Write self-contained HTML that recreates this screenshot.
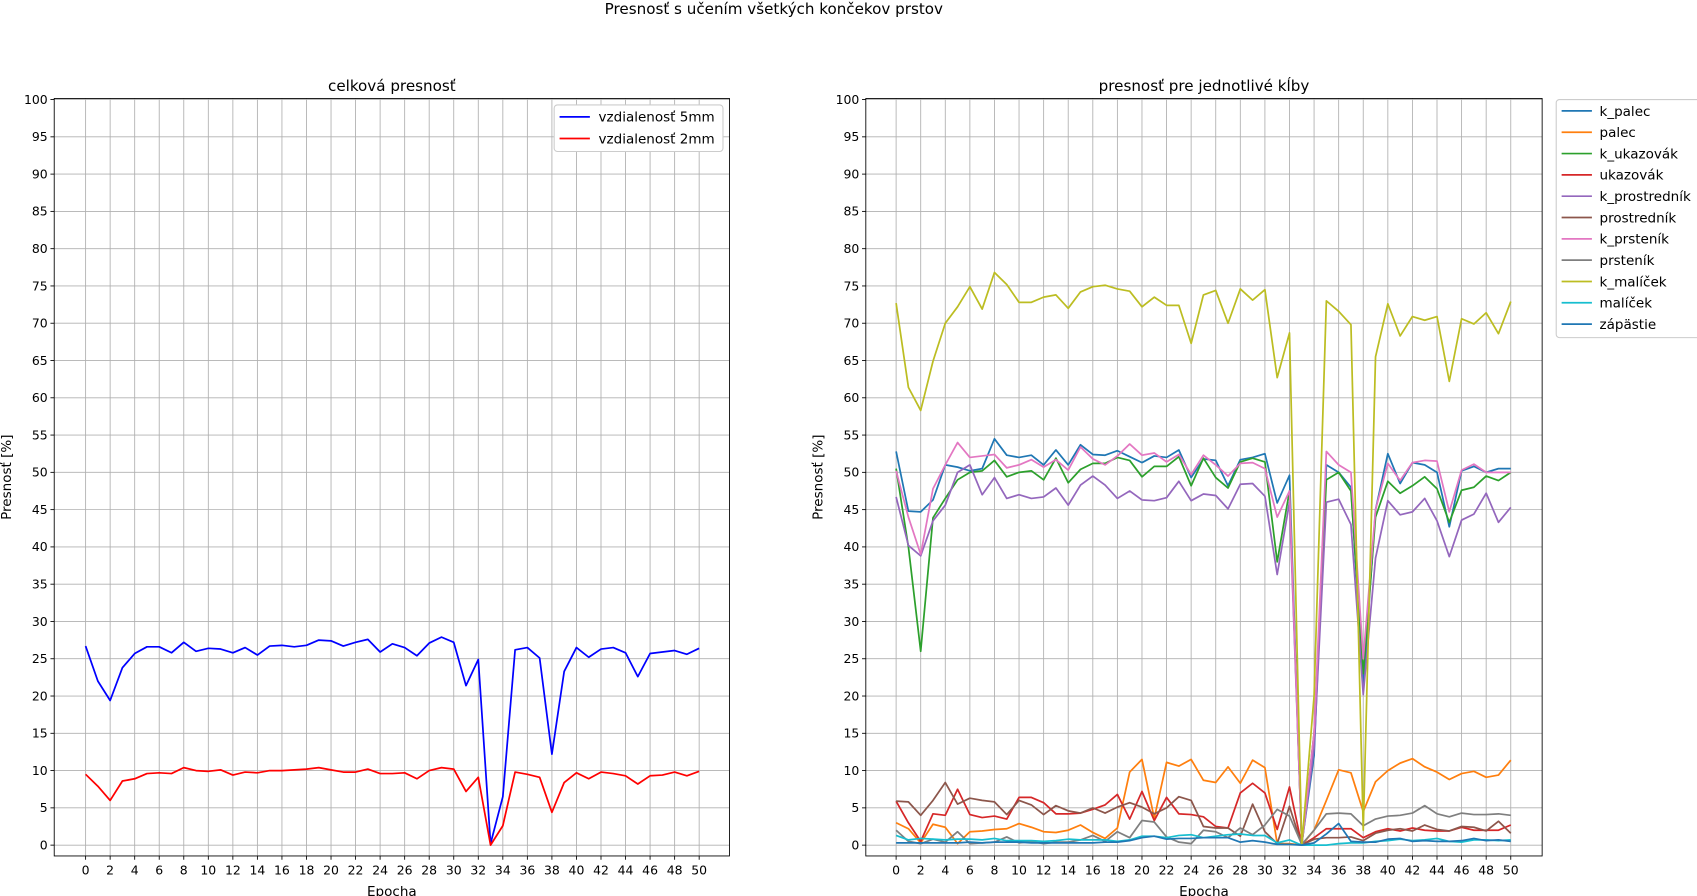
<!DOCTYPE html>
<html><head><meta charset="utf-8"><style>
html,body{margin:0;padding:0;background:#fff;}
svg{display:block;font-family:"DejaVu Sans","Liberation Sans",sans-serif;}
</style></head><body>
<svg id="chart" xmlns="http://www.w3.org/2000/svg" width="1697" height="896" viewBox="0 0 1568 828">
<rect width="1568" height="828" fill="#fff"/>
<text x="715" y="13" font-size="14" text-anchor="middle">Presnosť s učením všetkých končekov prstov</text>
<g id="left"></g>
<g id="right"></g>
</svg>
<script>
const epochs = Array.from({length:51},(_,i)=>i);
const yTicks = [0,5,10,15,20,25,30,35,40,45,50,55,60,65,70,75,80,85,90,95,100];
const xTicks = [0,2,4,6,8,10,12,14,16,18,20,22,24,26,28,30,32,34,36,38,40,42,44,46,48,50];

const dist5 = [26.7,22,19.4,23.8,25.7,26.6,26.6,25.8,27.2,26,26.4,26.3,25.8,26.5,25.5,26.7,26.8,26.6,26.8,27.5,27.4,26.7,27.2,27.6,25.9,27,26.5,25.4,27.1,27.9,27.2,21.4,24.9,0.2,6.5,26.2,26.5,25.1,12.2,23.3,26.5,25.2,26.3,26.5,25.8,22.6,25.7,25.9,26.1,25.6,26.4];
const dist2 = [9.5,7.9,6,8.6,8.9,9.6,9.7,9.6,10.4,10,9.9,10.1,9.4,9.8,9.7,10,10,10.1,10.2,10.4,10.1,9.8,9.8,10.2,9.6,9.6,9.7,8.9,10,10.4,10.2,7.2,9.1,0,2.6,9.8,9.5,9.1,4.4,8.4,9.7,8.9,9.8,9.6,9.3,8.2,9.3,9.4,9.8,9.3,9.9];

const kPalec = [52.8,44.8,44.7,46.3,51,50.7,50.2,50.5,54.5,52.3,52,52.3,51,53,51,53.7,52.4,52.3,52.9,52.1,51.3,52.2,52,53,49.3,51.8,51.6,48.2,51.7,52,52.5,45.9,49.6,0.2,12,51,50,48,21,45,52.5,48.5,51.3,51,50,42.7,50.2,50.8,50,50.5,50.5];
const palec = [3,2.2,0.3,2.8,2.4,0.2,1.8,1.9,2.1,2.2,2.9,2.4,1.8,1.7,2.0,2.7,1.7,0.9,2.3,9.8,11.5,3.6,11.1,10.6,11.5,8.7,8.4,10.5,8.3,11.4,10.4,0.2,0.2,0,2,6,10.1,9.7,4.5,8.5,10,11,11.6,10.5,9.8,8.8,9.6,9.9,9.1,9.4,11.4];
const kUkazovak = [50.5,40,26,43.9,46.5,49,50,50.2,51.6,49.4,50,50.2,49,51.9,48.6,50.4,51.2,51.2,52,51.6,49.4,50.8,50.8,52.1,48.2,51.9,49.3,47.9,51.4,51.9,51.4,38,47.5,0,15,49,50,47.5,23,44,48.8,47.2,48.2,49.4,47.8,43.3,47.6,48,49.5,48.9,50];
const ukazovak = [5.9,3,0.5,4.2,4,7.5,4.1,3.7,3.9,3.5,6.4,6.4,5.7,4.2,4.2,4.3,4.8,5.4,6.8,3.5,7.2,3.3,6.4,4.2,4.1,3.8,2.5,2.3,7.0,8.3,7.0,2.1,7.8,0,1,2.2,2.2,2.2,1.0,1.8,2.2,1.9,2.3,2.0,1.9,1.9,2.4,2.0,2.0,2.0,2.7];
const kProstrednik = [46.7,40.2,38.8,43.5,45.6,50,51,47,49.3,46.5,47,46.5,46.7,47.9,45.6,48.3,49.5,48.3,46.5,47.5,46.3,46.2,46.6,48.8,46.2,47.1,46.9,45.1,48.4,48.5,46.8,36.3,46,0,13,46,46.4,43,20.2,38.5,46.2,44.3,44.7,46.5,43.5,38.7,43.6,44.4,47.2,43.3,45.3];
const prostrednik = [5.9,5.8,4,6,8.4,5.5,6.3,6,5.8,4.1,6.0,5.4,4.1,5.3,4.6,4.3,5.0,4.3,5.1,5.7,5.1,4.2,5.0,6.5,6.0,2.5,2.3,2.3,1.2,5.5,1.8,0.2,5.2,0,0.8,1,1,1.1,0.6,1.6,2.0,2.2,1.9,2.7,2.1,1.9,2.5,2.4,1.9,3.2,1.6];
const kPrstenik = [50.2,44,39,47.8,51,54,52,52.2,52.4,50.6,51,51.7,50.7,51.7,50.3,53.4,51.8,51,52.2,53.8,52.3,52.6,51.4,52.4,49.7,52.3,51,49.5,51.2,51.3,50.5,44,47.5,0,15,52.8,51,50,25,45,51.2,48.9,51.3,51.6,51.5,44.7,50.3,51.1,50,50,50];
const prstenik = [2,0.5,0.2,0.8,0.4,1.8,0.2,0.3,0.4,1.1,0.3,0.5,0.2,0.4,0.4,0.7,1.3,0.5,1.8,1.0,3.3,3.1,1.1,0.4,0.2,2.0,1.8,1.0,2.3,1.4,2.7,4.8,3.9,0.1,2,4.2,4.3,4.2,2.6,3.5,3.9,4.0,4.3,5.3,4.2,3.8,4.3,4.1,4.1,4.2,4.0];
const kMalicek = [72.7,61.4,58.3,64.9,70,72.2,74.9,71.9,76.8,75.2,72.8,72.8,73.5,73.8,72,74.2,74.9,75.1,74.6,74.3,72.2,73.5,72.4,72.4,67.3,73.8,74.4,70,74.6,73.1,74.5,62.7,68.7,0,20,73,71.6,69.8,2,65.5,72.6,68.3,70.9,70.4,70.9,62.2,70.6,69.9,71.4,68.6,72.9];
const malicek = [1.3,0.7,0.9,0.8,0.7,0.8,0.8,0.7,0.9,0.6,0.6,0.6,0.5,0.6,0.8,0.7,0.7,0.7,0.5,0.7,1.2,1.2,1.0,1.3,1.4,1.0,1.2,1.4,1.5,1.3,1.3,0.3,0.7,0,0,0,0.2,0.3,0.3,0.5,0.6,0.8,0.6,0.7,0.9,0.5,0.4,0.7,0.7,0.6,0.7];
const zapastie = [0.3,0.3,0.3,0.3,0.3,0.3,0.4,0.3,0.4,0.4,0.4,0.3,0.3,0.3,0.3,0.3,0.3,0.4,0.4,0.6,1.0,1.2,0.8,0.9,0.9,1.0,1.0,1.0,0.4,0.6,0.4,0.1,0.1,0,0.3,1.5,2.9,0.5,0.4,0.4,0.8,0.9,0.5,0.6,0.5,0.5,0.6,0.9,0.6,0.7,0.5];

const NS="http://www.w3.org/2000/svg";
function mk(parent,tag,attrs,text){const e=document.createElementNS(NS,tag);for(const k in attrs)e.setAttribute(k,attrs[k]);if(text!==undefined)e.textContent=text;parent.appendChild(e);return e;}

function drawAxes(g,box,title,series){
  const xs=v=>box.x0+(v-0)*(box.x50-box.x0)/50;
  const ys=v=>781-v*6.89;
  for(const t of xTicks){
    const gl=mk(g,'line',{x1:xs(t),x2:xs(t),y1:box.top,y2:box.bot,stroke:'#b0b0b0','stroke-width':0.8});
    
    
    mk(g,'line',{x1:xs(t),x2:xs(t),y1:box.bot,y2:box.bot+3.5,stroke:'#000','stroke-width':0.8});
    const tl=mk(g,'text',{x:xs(t),y:box.bot+17,'font-size':11.5,'text-anchor':'middle'},String(t));
    
    
  }
  for(const t of yTicks){
    const gl=mk(g,'line',{x1:box.left,x2:box.right,y1:ys(t),y2:ys(t),stroke:'#b0b0b0','stroke-width':0.8});
    
    
    mk(g,'line',{x1:box.left-3.5,x2:box.left,y1:ys(t),y2:ys(t),stroke:'#000','stroke-width':0.8});
    const tl=mk(g,'text',{x:box.left-6,y:ys(t)+4,'font-size':11.5,'text-anchor':'end'},String(t));
    
    
  }
  for(const s of series){
    const p=mk(g,'polyline',{points:s.data.map((v,i)=>xs(epochs[i])+','+ys(v)).join(' '),fill:'none',stroke:s.color,'stroke-width':1.6,'stroke-linejoin':'round'});
    
    
  }
  const fr=mk(g,'rect',{x:box.left,y:box.top,width:box.right-box.left,height:box.bot-box.top,fill:'none',stroke:'#000','stroke-width':0.8});
  
  
  const tt=mk(g,'text',{x:(box.left+box.right)/2,y:84,'font-size':14,'text-anchor':'middle'},title);
  
  
  const xl=mk(g,'text',{x:(box.left+box.right)/2,y:828,'font-size':12.5,'text-anchor':'middle'},'Epocha');
  
  
  const yl=mk(g,'text',{x:0,y:0,'font-size':12.5,'text-anchor':'middle',transform:`translate(${box.left-40},441) rotate(-90)`},'Presnosť [%]');
  
  
}

const L=document.getElementById('left');
const leftSeries=[{key:'5mm',label:'vzdialenosť 5mm',color:'#0000ff',data:dist5},{key:'2mm',label:'vzdialenosť 2mm',color:'#ff0000',data:dist2}];
drawAxes(L,{left:50,right:674,top:91,bot:791,x0:79,x50:646},'celková presnosť',leftSeries);
const lg=mk(L,'g',{});


mk(lg,'rect',{x:512,y:97,width:156,height:43,fill:'#fff',stroke:'#ccc',rx:3});
leftSeries.forEach((s,i)=>{
  const y=108+i*20;
  mk(lg,'line',{x1:517,x2:545,y1:y,y2:y,stroke:s.color,'stroke-width':1.6});
  const t=mk(lg,'text',{x:553,y:y+4.5,'font-size':12.5},s.label);
  
  
});

const R=document.getElementById('right');
const rightSeries=[
 {key:'k-palec',label:'k_palec',color:'#1f77b4',data:kPalec},
 {key:'palec',label:'palec',color:'#ff7f0e',data:palec},
 {key:'k-ukazovak',label:'k_ukazovák',color:'#2ca02c',data:kUkazovak},
 {key:'ukazovak',label:'ukazovák',color:'#d62728',data:ukazovak},
 {key:'k-prostrednik',label:'k_prostredník',color:'#9467bd',data:kProstrednik},
 {key:'prostrednik',label:'prostredník',color:'#8c564b',data:prostrednik},
 {key:'k-prstenik',label:'k_prsteník',color:'#e377c2',data:kPrstenik},
 {key:'prstenik',label:'prsteník',color:'#7f7f7f',data:prstenik},
 {key:'k-malicek',label:'k_malíček',color:'#bcbd22',data:kMalicek},
 {key:'malicek',label:'malíček',color:'#17becf',data:malicek},
 {key:'zapastie',label:'zápästie',color:'#1f77b4',data:zapastie}];
drawAxes(R,{left:800,right:1425,top:91,bot:791,x0:828,x50:1396},'presnosť pre jednotlivé kĺby',rightSeries);
const rg=mk(R,'g',{});


mk(rg,'rect',{x:1438,y:92,width:140,height:220,fill:'#fff',stroke:'#ccc',rx:3});
rightSeries.forEach((s,i)=>{
  const y=102.5+i*19.7;
  mk(rg,'line',{x1:1443,x2:1471,y1:y,y2:y,stroke:s.color,'stroke-width':1.6});
  const t=mk(rg,'text',{x:1478,y:y+4.5,'font-size':12.5},s.label);
  
  
});
</script>
</body></html>
